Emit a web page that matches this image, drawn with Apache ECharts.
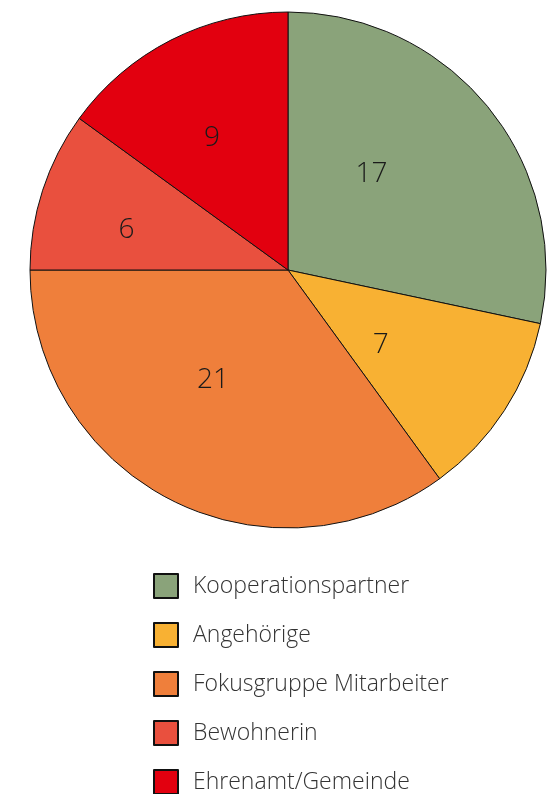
<!DOCTYPE html>
<html>
<head>
<meta charset="utf-8">
<script src="https://cdn.jsdelivr.net/npm/echarts@6/dist/echarts.min.js"></script>
<style>
  html, body { margin: 0; padding: 0; background: #fff; }
  #main { width: 553px; height: 794px; }
</style>
</head>
<body>
<div id="main"></div>
<script>
// Daten
var categories = ['Kooperationspartner', 'Angehörige', 'Fokusgruppe Mitarbeiter', 'Bewohnerin', 'Ehrenamt/Gemeinde'];
var values = [17, 7, 21, 6, 9];
var colors = ['#8aa37a', '#f8b133', '#ef7f3b', '#e9503e', '#e2000f'];
// Label-Verschiebung, damit die Zahlen wie im Original sitzen
var labelOffsets = [[-19, -13], [-18, 3], [-15, -8], [-36, 1], [-16, -14]];

var myChart = echarts.init(document.getElementById('main'));
var data = categories.map(function (name, i) {
  return {
    name: name,
    value: values[i],
    itemStyle: { color: colors[i] },
    label: { offset: labelOffsets[i] }
  };
});

var option = {
  animation: false,
  legend: {
    orient: 'vertical',
    left: 153,
    top: 573,
    height: 240,
    padding: 0,
    itemWidth: 24,
    itemHeight: 24,
    itemGap: 23,
    icon: 'rect',
    data: categories,
    textStyle: {
      fontFamily: 'Open Sans',
      fontWeight: 300,
      fontSize: 23,
      color: '#333',
      padding: [0, 0, 0, 10]
    }
  },
  series: [{
    type: 'pie',
    center: [288, 270],
    radius: 258,
    startAngle: 90,
    clockwise: true,
    data: data,
    itemStyle: { borderColor: '#111', borderWidth: 1 },
    label: {
      position: 'inside',
      formatter: '{c}',
      fontFamily: 'Open Sans',
      fontWeight: 300,
      fontSize: 28,
      color: '#1a1a1a'
    },
    labelLine: { show: false },
    emphasis: { disabled: true }
  }]
};
myChart.setOption(option);
</script>
</body>
</html>
